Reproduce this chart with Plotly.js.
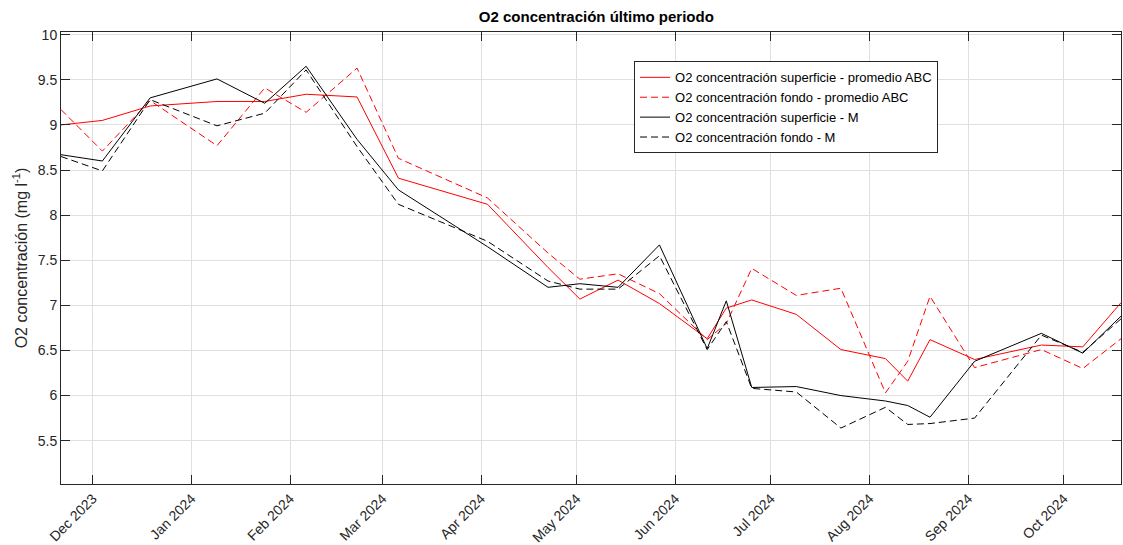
<!DOCTYPE html>
<html>
<head>
<meta charset="utf-8">
<script src="https://cdn.plot.ly/plotly-3.0.1.min.js"></script>
<style>
  html, body { margin: 0; padding: 0; background: #ffffff; }
  #chart { width: 1123px; height: 545px; }
</style>
</head>
<body>
<div id="chart"></div>
<script>
// Sampling dates
const fechas = [
  '2023-11-21', '2023-12-04', '2023-12-19', '2024-01-09', '2024-01-24',
  '2024-02-06', '2024-02-22', '2024-03-06', '2024-04-03', '2024-04-22',
  '2024-05-02', '2024-05-14', '2024-05-27', '2024-06-11', '2024-06-17',
  '2024-06-25', '2024-07-09', '2024-07-23', '2024-08-06', '2024-08-13',
  '2024-08-20', '2024-09-03', '2024-09-24', '2024-10-07', '2024-10-19'
];

// O2 superficie - promedio ABC
const superficieABC = [
  9.00, 9.05, 9.21, 9.26, 9.26, 9.34, 9.31, 8.41, 8.12, 7.42,
  7.07, 7.28, 7.02, 6.63, 6.97, 7.06, 6.90, 6.51, 6.41, 6.16,
  6.62, 6.40, 6.56, 6.54, 7.03
];

// O2 fondo - promedio ABC
const fondoABC = [
  9.17, 8.71, 9.27, 8.77, 9.41, 9.14, 9.63, 8.63, 8.19, 7.58,
  7.29, 7.35, 7.13, 6.62, 6.80, 7.41, 7.11, 7.19, 6.03, 6.38,
  7.10, 6.31, 6.51, 6.30, 6.63
];

// O2 superficie - M
const superficieM = [
  8.67, 8.60, 9.30, 9.51, 9.24, 9.65, 8.84, 8.28, 7.65, 7.20,
  7.24, 7.20, 7.67, 6.52, 7.05, 6.09, 6.10, 6.00, 5.94, 5.89,
  5.76, 6.38, 6.69, 6.47, 6.88
];

// O2 fondo - M
const fondoM = [
  8.65, 8.49, 9.28, 8.99, 9.13, 9.61, 8.76, 8.12, 7.71, 7.27,
  7.18, 7.18, 7.55, 6.51, 6.82, 6.08, 6.04, 5.64, 5.87, 5.68,
  5.69, 5.75, 6.67, 6.48, 6.85
];

const nombres = [
  'O2 concentración superficie - promedio ABC',
  'O2 concentración fondo - promedio ABC',
  'O2 concentración superficie - M',
  'O2 concentración fondo - M'
];

const FONT = '"Liberation Sans", Arial, Helvetica, sans-serif';
const AX = '#262626';
const GRID = '#dfdfdf';
const DASH = '7px,4px';

const traces = [
  { x: fechas, y: superficieABC, name: nombres[0], type: 'scatter', mode: 'lines',
    line: { color: '#ff0000', width: 1 } },
  { x: fechas, y: fondoABC, name: nombres[1], type: 'scatter', mode: 'lines',
    line: { color: '#ff0000', width: 1, dash: DASH } },
  { x: fechas, y: superficieM, name: nombres[2], type: 'scatter', mode: 'lines',
    line: { color: '#000000', width: 1 } },
  { x: fechas, y: fondoM, name: nombres[3], type: 'scatter', mode: 'lines',
    line: { color: '#000000', width: 1, dash: DASH } }
];

const layout = {
  width: 1123,
  height: 545,
  paper_bgcolor: '#ffffff',
  plot_bgcolor: '#ffffff',
  margin: { l: 61, r: 2, t: 32, b: 61, pad: 0 },
  font: { family: FONT, size: 14, color: AX },
  title: {
    text: '<b>O2 concentración último periodo</b>',
    font: { family: FONT, size: 15, color: '#000000' },
    x: 0.505, xref: 'paper', xanchor: 'center',
    y: 1 - 17 / 545, yref: 'container', yanchor: 'middle'
  },
  showlegend: true,
  legend: {
    x: 0.5406, y: 0.935, xanchor: 'left', yanchor: 'top',
    bgcolor: '#ffffff', bordercolor: AX, borderwidth: 1,
    font: { family: FONT, size: 13, color: '#000000' },
    tracegroupgap: 0, itemwidth: 30
  },
  xaxis: {
    type: 'date',
    range: ['2023-11-21', '2024-10-19'],
    tick0: '2023-12-01',
    dtick: 'M1',
    tickformat: '%b %Y',
    tickangle: -45,
    ticks: 'inside', ticklen: 9, tickcolor: AX, tickwidth: 1,
    showline: true, linecolor: AX, linewidth: 1, mirror: 'ticks',
    showgrid: true, gridcolor: GRID, gridwidth: 1,
    zeroline: false,
    tickfont: { family: FONT, size: 14, color: AX },
    automargin: false
  },
  yaxis: {
    range: [5.02, 10.03],
    tickmode: 'array',
    tickvals: [5.5, 6, 6.5, 7, 7.5, 8, 8.5, 9, 9.5, 10],
    ticktext: ['5.5', '6', '6.5', '7', '7.5', '8', '8.5', '9', '9.5', '10'],
    ticks: 'inside', ticklen: 9, tickcolor: AX, tickwidth: 1,
    showline: true, linecolor: AX, linewidth: 1, mirror: 'ticks',
    showgrid: true, gridcolor: GRID, gridwidth: 1,
    zeroline: false,
    tickfont: { family: FONT, size: 14, color: AX },
    title: {
      text: 'O2 concentración (mg l<sup>-1</sup>)',
      font: { family: FONT, size: 16, color: AX },
      standoff: 6
    },
    automargin: false
  }
};

Plotly.newPlot('chart', traces, layout, { displayModeBar: false, staticPlot: true });
</script>
</body>
</html>
